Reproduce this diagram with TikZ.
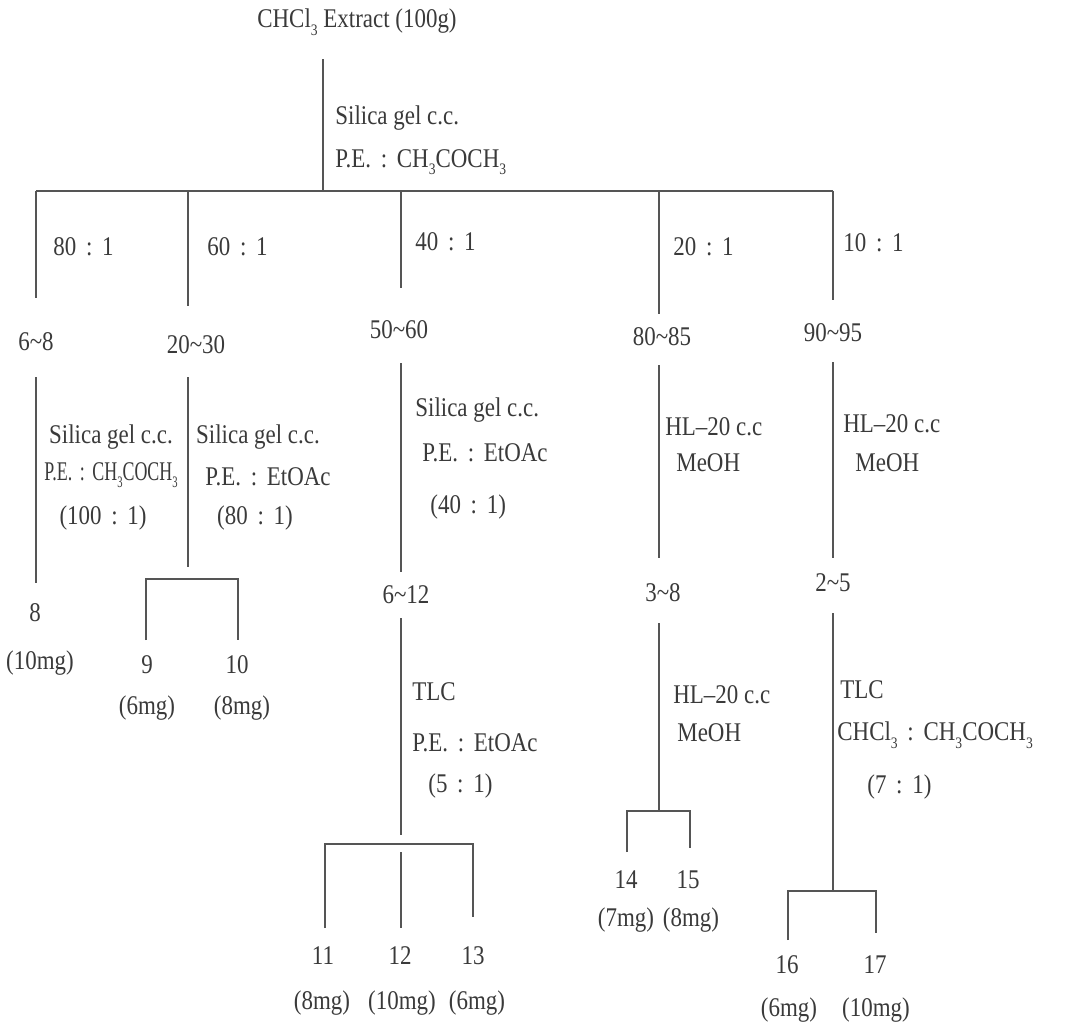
\documentclass[tikz,border=0pt]{standalone}
\usepackage{fontspec}
\usepackage{graphicx}
\setmainfont{Liberation Serif}[FakeStretch=0.85]
\definecolor{txt}{HTML}{3A3A3A}
\definecolor{lnc}{HTML}{555555}
\newcommand{\sbt}[1]{\raisebox{-0.6ex}{\fontsize{8pt}{8pt}\selectfont #1}}
\newcommand{\tl}{\textasciitilde}
\newcommand{\cln}{\hspace{0.36em}:\hspace{0.36em}}
\newcommand{\mainsz}{\fontsize{13.5pt}{16pt}\selectfont}
\begin{document}
\begin{tikzpicture}[x=0.5pt,y=-0.5pt,
  every node/.style={text=txt, inner sep=0pt, font=\mainsz},
  lbl/.style={anchor=west},
  ln/.style={draw=lnc, line width=0.65pt}]
\useasboundingbox[fill=white] (0,0) rectangle (1072,1028);

% ---------- top ----------
\node (title) at (357,22) {CHCl\sbt{3} Extract (100g)};
\coordinate (t0) at (323,59);
\coordinate (t1) at (323,191);
\node[lbl] (s0a) at (335,118) {Silica gel c.c.};
\node[lbl] (s0b) at (335,162) {P.E.\cln CH\sbt{3}COCH\sbt{3}};
\coordinate (hL) at (36,191);
\coordinate (hR) at (833,191);
\draw[ln] (t0) -- (t1);
\draw[ln] (hL) -- (hR);

% branch stubs
\coordinate (b1) at (188,191);
\coordinate (b2) at (401,191);
\coordinate (b3) at (659,191);
\coordinate (e0) at (36,298);
\coordinate (e1) at (188,306);
\coordinate (e2) at (401,288);
\coordinate (e3) at (659,314);
\coordinate (e4) at (833,300);
\draw[ln] (hL) -- (e0);
\draw[ln] (b1) -- (e1);
\draw[ln] (b2) -- (e2);
\draw[ln] (b3) -- (e3);
\draw[ln] (hR) -- (e4);

\node[lbl] (r1) at (53,247) {80\cln 1};
\node[lbl] (r2) at (207,247) {60\cln 1};
\node[lbl] (r3) at (415,242) {40\cln 1};
\node[lbl] (r4) at (673,247) {20\cln 1};
\node[lbl] (r5) at (843,243) {10\cln 1};

\node (f1) at (36,342) {6\tl8};
\node (f2) at (196,345) {20\tl30};
\node (f3) at (399,330) {50\tl60};
\node (f4) at (662,337) {80\tl85};
\node (f5) at (833,333) {90\tl95};

% ---------- branch 1 ----------
\coordinate (p1a) at (36,377);
\coordinate (p1b) at (36,583);
\draw[ln] (p1a) -- (p1b);
\node (a1) at (111,437) {Silica gel c.c.};
\node (a2) at (111,475) {\scalebox{0.78}[1]{P.E.\cln CH\sbt{3}COCH\sbt{3}}};
\node (a3) at (103,518) {(100\cln 1)};
\node (c8) at (35,613) {8};
\node (m8) at (40,663) {(10mg)};

% ---------- branch 2 ----------
\coordinate (p2a) at (188,377);
\coordinate (p2b) at (188,567);
\draw[ln] (p2a) -- (p2b);
\node (d1) at (258,437) {Silica gel c.c.};
\node (d2) at (268,477) {P.E.\cln EtOAc};
\node (d3) at (255,518) {(80\cln 1)};
\coordinate (k9) at (146,640);
\coordinate (k9t) at (146,579);
\coordinate (k10t) at (238,579);
\coordinate (k10) at (238,640);
\draw[ln] (k9) -- (k9t) -- (k10t) -- (k10);
\node (c9) at (147,665) {9};
\node (c10) at (237,665) {10};
\node (m9) at (147,708) {(6mg)};
\node (m10) at (242,708) {(8mg)};

% ---------- branch 3 ----------
\coordinate (p3a) at (401,363);
\coordinate (p3b) at (401,572);
\draw[ln] (p3a) -- (p3b);
\node[lbl] (g1) at (415,410) {Silica gel c.c.};
\node[lbl] (g2) at (422,453) {P.E.\cln EtOAc};
\node[lbl] (g3) at (430,507) {(40\cln 1)};
\node (f6) at (406,595) {6\tl12};
\coordinate (p3c) at (401,618);
\coordinate (p3d) at (401,835);
\draw[ln] (p3c) -- (p3d);
\node[lbl] (h1) at (412,692) {TLC};
\node[lbl] (h2) at (412,743) {P.E.\cln EtOAc};
\node[lbl] (h3) at (428,786) {(5\cln 1)};
\coordinate (k11) at (325,928);
\coordinate (k11t) at (325,844);
\coordinate (k13t) at (473,844);
\coordinate (k13) at (473,917);
\coordinate (k12t) at (401,852);
\coordinate (k12) at (401,928);
\draw[ln] (k11) -- (k11t) -- (k13t) -- (k13);
\draw[ln] (k12t) -- (k12);
\node (c11) at (323,956) {11};
\node (c12) at (400,956) {12};
\node (c13) at (473,956) {13};
\node (m11) at (322,1003) {(8mg)};
\node (m12) at (402,1003) {(10mg)};
\node (m13) at (477,1003) {(6mg)};

% ---------- branch 4 ----------
\coordinate (p4a) at (659,365);
\coordinate (p4b) at (659,558);
\draw[ln] (p4a) -- (p4b);
\node[lbl] (i1) at (665,427) {HL\textendash20 c.c};
\node[lbl] (i2) at (676,463) {MeOH};
\node (f7) at (663,593) {3\tl8};
\coordinate (p4c) at (659,623);
\coordinate (p4d) at (659,811);
\draw[ln] (p4c) -- (p4d);
\node[lbl] (j1) at (673,695) {HL\textendash20 c.c};
\node[lbl] (j2) at (677,733) {MeOH};
\coordinate (k14) at (627,852);
\coordinate (k14t) at (627,811);
\coordinate (k15t) at (690,811);
\coordinate (k15) at (690,848);
\draw[ln] (k14) -- (k14t) -- (k15t) -- (k15);
\node (c14) at (626,880) {14};
\node (c15) at (688,880) {15};
\node (m14) at (626,920) {(7mg)};
\node (m15) at (691,920) {(8mg)};

% ---------- branch 5 ----------
\coordinate (p5a) at (833,362);
\coordinate (p5b) at (833,558);
\draw[ln] (p5a) -- (p5b);
\node[lbl] (n1) at (843,424) {HL\textendash20 c.c};
\node[lbl] (n2) at (855,463) {MeOH};
\node (f8) at (833,583) {2\tl5};
\coordinate (p5c) at (833,613);
\coordinate (p5d) at (833,891);
\draw[ln] (p5c) -- (p5d);
\node[lbl] (o1) at (840,690) {TLC};
\node[lbl] (o2) at (837,735) {CHCl\sbt{3}\cln CH\sbt{3}COCH\sbt{3}};
\node[lbl] (o3) at (867,787) {(7\cln 1)};
\coordinate (k16) at (788,940);
\coordinate (k16t) at (788,891);
\coordinate (k17t) at (876,891);
\coordinate (k17) at (876,933);
\draw[ln] (k16) -- (k16t) -- (k17t) -- (k17);
\node (c16) at (787,965) {16};
\node (c17) at (875,965) {17};
\node (m16) at (789,1010) {(6mg)};
\node (m17) at (876,1010) {(10mg)};
\end{tikzpicture}
\end{document}
